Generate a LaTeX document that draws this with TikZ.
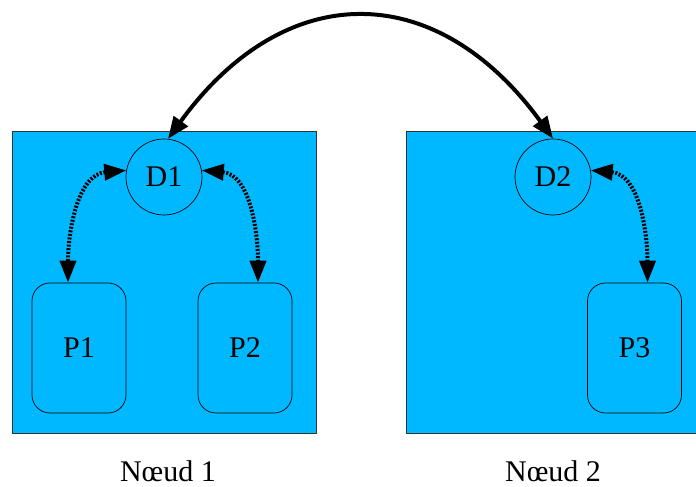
\documentclass[tikz,border=0pt]{standalone}
\usepackage{fontspec}
\setmainfont{Liberation Serif}
\usetikzlibrary{arrows.meta,calc}
\definecolor{nodeblue}{RGB}{0,184,255}
\tikzset{
  noeud/.style={draw=black!80, line width=0.7pt, fill=nodeblue, inner sep=0pt, minimum width=304pt, minimum height=302pt},
  daemon/.style={draw, circle, line width=0.7pt, minimum size=76pt, inner sep=0pt, font=\fontsize{30}{32}\selectfont},
  proc/.style={draw, rounded corners=18pt, line width=0.7pt, minimum width=94pt, minimum height=130pt, inner sep=0pt, font=\fontsize{30}{32}\selectfont},
  lab/.style={font=\fontsize{30}{32}\selectfont, inner sep=0pt, anchor=base},
  bigarrow/.style={line width=4pt, {Triangle[length=22pt,width=17pt]}-{Triangle[length=22pt,width=17pt]}},
  dotarrow/.style={line width=4pt, dash pattern=on 2pt off 1.6pt, {Triangle[length=22pt,width=16pt]}-{Triangle[length=22pt,width=16pt]}}
}
\begin{document}
\begin{tikzpicture}[x=1pt,y=1pt]
\useasboundingbox (0,0) rectangle (696,487);
\clip (0,0) rectangle (696,487);
\node[noeud] (box1) at (164,205) {};
\node[noeud] (box2) at (558,205) {};
\node[daemon] (D1) at (164,310) {D1};
\node[daemon] (D2) at (553,310) {D2};
\node[proc] (P1) at (79,139) {P1};
\node[proc] (P2) at (245,139) {P2};
\node[proc] (P3) at (634.5,139) {P3};
\node[lab] (L1) at (168,5) {Nœud 1};
\node[lab] (L2) at (553,5) {Nœud 2};
\draw[bigarrow] (D1.84) .. controls (285,509) and (436,509) .. (D2.90);
\draw[dotarrow] (D1.170) to[out=185,in=90] ([xshift=-11pt]P1.north);
\draw[dotarrow] (D1.10) to[out=-5,in=90] ([xshift=13pt]P2.north);
\draw[dotarrow] (D2.10) to[out=-5,in=90] ([xshift=13pt]P3.north);
\end{tikzpicture}
\end{document}
